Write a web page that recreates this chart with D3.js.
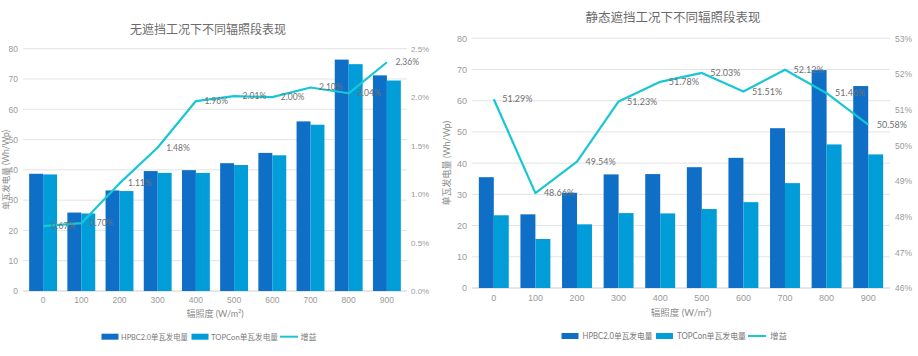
<!DOCTYPE html>
<html><head><meta charset="utf-8">
<script src="https://cdn.jsdelivr.net/npm/d3@7"></script>
<style>
html,body{margin:0;padding:0;background:#fff;}
svg{display:block;font-family:"Lato","Noto Sans CJK SC","Noto Sans",sans-serif;}
</style></head>
<body>
<svg id="c" width="918" height="356"></svg>
<script>
const categories = ["0","100","200","300","400","500","600","700","800","900"];
const leftTitle = "无遮挡工况下不同辐照段表现";
const leftHPBC = [38.7, 25.9, 33.2, 39.6, 39.9, 42.2, 45.6, 56.0, 76.4, 71.2];
const leftTOPCon = [38.5, 25.6, 33.0, 39.0, 39.0, 41.6, 44.8, 54.9, 74.9, 69.5];
const leftGain = [0.67, 0.70, 1.11, 1.48, 1.96, 2.01, 2.00, 2.10, 2.04, 2.36];
const leftYTicks = [0,10,20,30,40,50,60,70,80];
const leftY2Ticks = [0.0,0.5,1.0,1.5,2.0,2.5];

const rightTitle = "静态遮挡工况下不同辐照段表现";
const rightHPBC = [35.5, 23.6, 30.5, 36.4, 36.5, 38.7, 41.7, 51.2, 69.8, 64.7];
const rightTOPCon = [23.3, 15.7, 20.4, 24.0, 23.9, 25.3, 27.5, 33.6, 46.0, 42.8];
const rightGain = [51.29, 48.66, 49.54, 51.23, 51.78, 52.03, 51.51, 52.12, 51.46, 50.58];
const rightYTicks = [0,10,20,30,40,50,60,70,80];
const rightY2Ticks = [46,47,48,49,50,51,52,53];

const seriesNames = ["HPBC2.0单瓦发电量", "TOPCon单瓦发电量", "增益"];
const yTitle = "单瓦发电量 (Wh/Wp)";
const xTitle = "辐照度 (W/m²)";

const C1 = "#0F6FC6", C2 = "#009DD9", CL = "#19C6D4";
const svg = d3.select("#c");

function drawChart(o) {
  const g = svg.append("g");
  const x = d3.scaleBand().domain(categories).range([o.x0, o.x1]).paddingInner(0).paddingOuter(0);
  const y = d3.scaleLinear().domain([0, 80]).range([o.yb, o.yt]);
  const y2 = d3.scaleLinear().domain(o.y2dom).range([o.yb, o.yt]);
  const inner = d3.scaleBand().domain([0,1]).range([0, x.bandwidth()]).paddingInner(0).paddingOuter(o.outerPad);

  g.selectAll(".grid").data(o.yTicks).join("line")
    .attr("x1", o.x0 - 1).attr("x2", o.x1 + 1)
    .attr("y1", d => y(d)).attr("y2", d => y(d))
    .attr("stroke", d => d === 0 ? "#cfcfcf" : "#e3e3e3").attr("stroke-width", 1);

  const yAxis = d3.axisLeft(y).tickValues(o.yTicks).tickSize(0).tickPadding(0);
  const ya = g.append("g").attr("transform", `translate(${o.yLabX},0)`).call(yAxis);
  ya.select(".domain").remove();
  ya.selectAll("text").attr("fill", "#9a9a9a").style("font-size", o.fs + "px").style("font-family", "inherit");

  const y2Axis = d3.axisRight(y2).tickValues(o.y2Ticks).tickSize(0).tickPadding(0)
    .tickFormat(o.y2fmt);
  const y2a = g.append("g").attr("transform", `translate(${o.y2LabX},0)`).call(y2Axis);
  y2a.select(".domain").remove();
  y2a.selectAll("text").attr("fill", "#9a9a9a").style("font-size", (o.fs - 0.5) + "px").style("font-family", "inherit");

  const xAxis = d3.axisBottom(x).tickSize(0).tickPadding(0);
  const xa = g.append("g").attr("transform", `translate(0,${o.xLabY})`).call(xAxis);
  xa.select(".domain").remove();
  xa.selectAll("text").attr("fill", "#9a9a9a").attr("dy", "0.32em").style("font-size", o.fs + "px").style("font-family", "inherit");

  const series = [o.hpbc, o.topcon];
  const colors = [C1, C2];
  series.forEach((vals, si) => {
    g.selectAll(".b" + si).data(vals).join("rect")
      .attr("x", (d, i) => x(categories[i]) + inner(si))
      .attr("width", inner.bandwidth())
      .attr("y", d => y(d))
      .attr("height", d => y(0) - y(d))
      .attr("fill", colors[si]);
  });

  const line = d3.line()
    .x((d, i) => x(categories[i]) + x.bandwidth() / 2)
    .y(d => y2(d));
  g.append("path").datum(o.gain).attr("d", line)
    .attr("fill", "none").attr("stroke", CL).attr("stroke-width", 2.2).attr("stroke-linejoin", "round");

  g.selectAll(".dl").data(o.gain).join("text")
    .attr("x", (d, i) => x(categories[i]) + x.bandwidth() / 2 + 8.5)
    .attr("y", d => y2(d))
    .attr("dy", "0.35em")
    .attr("fill", "#707070").style("font-size", (o.fs) + "px")
    .text(d => d.toFixed(2) + "%");

  g.append("text").attr("x", o.titleX).attr("y", o.titleY).attr("dy", "0.35em")
    .attr("text-anchor", "middle").attr("fill", "#6b6b6b")
    .style("font-size", o.tfs + "px").text(o.title);

  g.append("text").attr("transform", `translate(${o.yTitleX},${(o.yt + o.yb) / 2}) rotate(-90)`)
    .attr("text-anchor", "middle").attr("dy", "0.35em").attr("fill", "#8a8a8a")
    .style("font-size", o.fs + "px").text(yTitle);

  g.append("text").attr("x", (o.x0 + o.x1) / 2).attr("y", o.xTitleY).attr("dy", "0.35em")
    .attr("text-anchor", "middle").attr("fill", "#8a8a8a")
    .style("font-size", (o.fs + 0.5) + "px").text(xTitle);

  const lg = g.append("g").attr("transform", `translate(0,${o.legY})`);
  const L = o.leg;
  lg.append("rect").attr("x", L[0]).attr("y", -3).attr("width", 17).attr("height", 6).attr("fill", C1);
  lg.append("text").attr("x", L[1]).attr("dy", "0.35em").attr("fill", "#7a7a7a").style("font-size", o.lfs + "px")
    .attr("textLength", o.legW[0]).attr("lengthAdjust", "spacingAndGlyphs").text(seriesNames[0]);
  lg.append("rect").attr("x", L[2]).attr("y", -3).attr("width", 17).attr("height", 6).attr("fill", C2);
  lg.append("text").attr("x", L[3]).attr("dy", "0.35em").attr("fill", "#7a7a7a").style("font-size", o.lfs + "px")
    .attr("textLength", o.legW[1]).attr("lengthAdjust", "spacingAndGlyphs").text(seriesNames[1]);
  lg.append("line").attr("x1", L[4]).attr("x2", L[4] + 18).attr("stroke", CL).attr("stroke-width", 2);
  lg.append("text").attr("x", L[5]).attr("dy", "0.35em").attr("fill", "#7a7a7a").style("font-size", o.lfs + "px").text(seriesNames[2]);
}

drawChart({
  title: leftTitle, hpbc: leftHPBC, topcon: leftTOPCon, gain: leftGain,
  yTicks: leftYTicks, y2Ticks: leftY2Ticks, y2dom: [0, 2.5], y2fmt: d => d.toFixed(1) + "%",
  x0: 24, x1: 406, yb: 291, yt: 48.7, outerPad: 0.37,
  yLabX: 18, y2LabX: 411, xLabY: 300.7, xTitleY: 314, legY: 336.7,
  titleX: 208, titleY: 30, yTitleX: 6, fs: 8.5, tfs: 12, lfs: 8,
  leg: [101.5, 121, 191.5, 211, 280, 300.5], legW: [67, 67]
});
drawChart({
  title: rightTitle, hpbc: rightHPBC, topcon: rightTOPCon, gain: rightGain,
  yTicks: rightYTicks, y2Ticks: rightY2Ticks, y2dom: [46, 53], y2fmt: d => d + "%",
  x0: 473, x1: 889, yb: 288, yt: 38.3, outerPad: 0.39,
  yLabX: 467, y2LabX: 895, xLabY: 298.5, xTitleY: 312.7, legY: 336,
  titleX: 673, titleY: 17.7, yTitleX: 447, fs: 9, tfs: 12.5, lfs: 8.5,
  leg: [561.5, 582.5, 656, 677, 748, 770], legW: [70, 69]
});
</script>
</body></html>
